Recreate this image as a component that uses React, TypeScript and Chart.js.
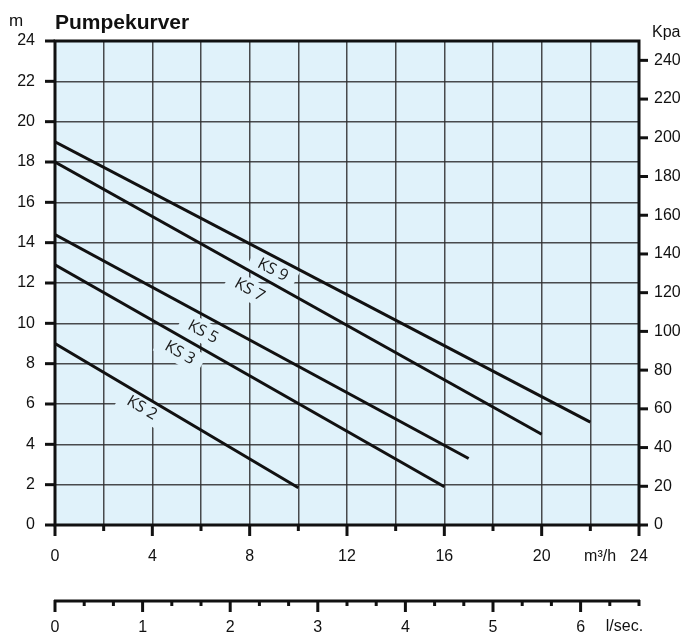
import React, { useEffect, useRef } from 'react';
import { Chart, registerables } from 'chart.js';

Chart.register(...registerables);

// ---- data ----
const curveNames = ['KS 2', 'KS 3', 'KS 5', 'KS 7', 'KS 9'];
const flowStart = [0, 0, 0, 0, 0];
const flowEnd = [10, 16, 17, 20, 22];
const headStart = [9.0, 12.9, 14.4, 18.0, 19.0];
const headEnd = [1.85, 1.9, 3.3, 4.5, 5.1];
// label anchor (flow m3/h, head m) for each curve name
const labelFlow = [3.57, 5.13, 6.08, 8.0, 8.95];
const labelHead = [5.8, 8.53, 9.57, 11.65, 12.64];

const headTicks = [0, 2, 4, 6, 8, 10, 12, 14, 16, 18, 20, 22, 24];
const kpaTicks = [0, 20, 40, 60, 80, 100, 120, 140, 160, 180, 200, 220, 240];
const kpaMax = 250;
const flowTicks = [0, 2, 4, 6, 8, 10, 12, 14, 16, 18, 20, 22, 24];
const flowLabels = [0, 4, 8, 12, 16, 20, 24];
const lsecLabels = [0, 1, 2, 3, 4, 5, 6];
const lsecSub = 3; // minor divisions per l/sec
const M3H_PER_LSEC = 3.6;

const BG = '#e0f2fa';
const INK = '#111111';
const FAMILY = '"Liberation Sans", Arial, sans-serif';
const TICK_SIZE = 16;
const GRID = 'rgba(45,45,45,0.85)';

const deco = {
  id: 'deco',
  beforeDraw(chart: any) {
    const { ctx, chartArea: a } = chart;
    ctx.save();
    ctx.fillStyle = BG;
    ctx.fillRect(a.left, a.top, a.right - a.left, a.bottom - a.top);
    ctx.restore();
  },
  beforeDatasetsDraw(chart: any) {
    const { ctx } = chart;
    const x = chart.scales.x;
    const y = chart.scales.y;
    ctx.save();
    ctx.font = '16px "Open Sans", sans-serif';
    curveNames.forEach((name, i) => {
      const x0 = x.getPixelForValue(flowStart[i]);
      const y0 = y.getPixelForValue(headStart[i]);
      const x1 = x.getPixelForValue(flowEnd[i]);
      const y1 = y.getPixelForValue(headEnd[i]);
      const ang = Math.atan2(y1 - y0, x1 - x0);
      const cx = x.getPixelForValue(labelFlow[i]);
      const cy = y.getPixelForValue(labelHead[i]);
      const w = ctx.measureText(name).width;
      ctx.save();
      ctx.translate(cx, cy);
      ctx.rotate(ang);
      ctx.fillStyle = BG;
      ctx.fillRect(-w / 2 - 9, -11, w + 18, 22);
      ctx.fillStyle = '#1a1a1a';
      ctx.textAlign = 'center';
      ctx.textBaseline = 'middle';
      ctx.fillText(name, 0, 0);
      ctx.restore();
    });
    ctx.restore();
  },
  afterDraw(chart: any) {
    const { ctx, chartArea: a } = chart;
    const x = chart.scales.x;
    const y = chart.scales.y;
    const y2 = chart.scales.y2;
    const x2 = chart.scales.x2;
    ctx.save();
    ctx.strokeStyle = INK;
    ctx.lineWidth = 3;
    ctx.lineCap = 'butt';
    // frame
    ctx.strokeRect(a.left, a.top, a.right - a.left, a.bottom - a.top);
    // left ticks
    headTicks.forEach((v) => {
      const p = y.getPixelForValue(v);
      ctx.beginPath();
      ctx.moveTo(a.left - 10, p);
      ctx.lineTo(a.left, p);
      ctx.stroke();
    });
    // right ticks
    kpaTicks.forEach((v) => {
      const p = y2.getPixelForValue(v);
      ctx.beginPath();
      ctx.moveTo(a.right, p);
      ctx.lineTo(a.right + 9, p);
      ctx.stroke();
    });
    // bottom ticks
    flowTicks.forEach((v) => {
      const p = x.getPixelForValue(v);
      const len = flowLabels.includes(v) ? 11 : 6;
      ctx.beginPath();
      ctx.moveTo(p, a.bottom);
      ctx.lineTo(p, a.bottom + len);
      ctx.stroke();
    });
    // l/sec axis
    const ly = x2.top;
    ctx.beginPath();
    ctx.moveTo(a.left - 1, ly);
    ctx.lineTo(a.right + 1, ly);
    ctx.stroke();
    const n = lsecLabels[lsecLabels.length - 1] * lsecSub + 2;
    for (let i = 0; i <= n; i++) {
      const p = x2.getPixelForValue(i / lsecSub);
      if (p > a.right + 1) break;
      const len = i % lsecSub === 0 ? 11 : 5;
      ctx.beginPath();
      ctx.moveTo(p, ly - 1);
      ctx.lineTo(p, ly + len);
      ctx.stroke();
    }
    // texts
    ctx.fillStyle = INK;
    ctx.textBaseline = 'alphabetic';
    ctx.textAlign = 'left';
    ctx.font = 'bold 21px ' + FAMILY;
    ctx.fillText('Pumpekurver', a.left, 29);
    ctx.font = '17px ' + FAMILY;
    ctx.fillText('m', 9, 26);
    ctx.font = TICK_SIZE + 'px ' + FAMILY;
    ctx.fillText('Kpa', 652, 37);
    ctx.textAlign = 'center';
    ctx.textBaseline = 'middle';
    ctx.fillText('m³/h', x.getPixelForValue(22.4), 557);
    ctx.fillText('l/sec.', x.getPixelForValue(23.4), 627);
    ctx.restore();
  },
};

export default function App() {
  const ref = useRef<HTMLCanvasElement | null>(null);
  useEffect(() => {
    document.body.style.margin = '0';
    const canvas = ref.current;
    if (!canvas) return;
    const datasets = curveNames.map((name, i) => ({
      label: name,
      data: [
        { x: flowStart[i], y: headStart[i] },
        { x: flowEnd[i], y: headEnd[i] },
      ],
      borderColor: INK,
      borderWidth: 3,
      pointRadius: 0,
      fill: false,
      tension: 0,
    }));
    const tickFont = { family: FAMILY, size: TICK_SIZE };
    const chart = new Chart(canvas, {
      type: 'line',
      data: { datasets },
      plugins: [deco],
      options: {
        responsive: false,
        animation: false,
        devicePixelRatio: 1,
        layout: { padding: { top: 41, left: 0, right: 0, bottom: 0 } },
        plugins: { legend: { display: false }, tooltip: { enabled: false }, title: { display: false } },
        scales: {
          x: {
            type: 'linear',
            position: 'bottom',
            min: 0,
            max: 24,
            afterBuildTicks: (s: any) => {
              s.ticks = flowTicks.map((v) => ({ value: v }));
            },
            afterFit: (s: any) => {
              s.height = 76;
            },
            ticks: {
              autoSkip: false,
              maxRotation: 0,
              padding: 22,
              color: INK,
              font: tickFont,
              callback: (v: any) => (flowLabels.includes(Number(v)) ? String(v) : ''),
            },
            grid: { color: GRID, lineWidth: 1.5, drawTicks: false },
            border: { display: false },
          },
          x2: {
            type: 'linear',
            position: 'bottom',
            min: 0,
            max: 24 / M3H_PER_LSEC,
            afterBuildTicks: (s: any) => {
              s.ticks = lsecLabels.map((v) => ({ value: v }));
            },
            afterFit: (s: any) => {
              s.height = 34;
            },
            ticks: {
              autoSkip: false,
              maxRotation: 0,
              padding: 17,
              color: INK,
              font: tickFont,
              callback: (v: any) => String(v),
            },
            grid: { drawOnChartArea: false, drawTicks: false },
            border: { display: false },
          },
          y: {
            type: 'linear',
            position: 'left',
            min: 0,
            max: 24,
            afterBuildTicks: (s: any) => {
              s.ticks = headTicks.map((v) => ({ value: v }));
            },
            afterFit: (s: any) => {
              s.width = 55;
            },
            ticks: {
              autoSkip: false,
              padding: 20,
              color: INK,
              font: tickFont,
            },
            grid: { color: GRID, lineWidth: 1.5, drawTicks: false },
            border: { display: false },
          },
          y2: {
            type: 'linear',
            position: 'right',
            min: 0,
            max: kpaMax,
            afterBuildTicks: (s: any) => {
              s.ticks = kpaTicks.map((v) => ({ value: v }));
            },
            afterFit: (s: any) => {
              s.width = 44;
            },
            ticks: {
              autoSkip: false,
              padding: 15,
              color: INK,
              font: tickFont,
            },
            grid: { drawOnChartArea: false, drawTicks: false },
            border: { display: false },
          },
        },
      },
    } as any);
    return () => chart.destroy();
  }, []);
  return (
    <div style={{ width: 683, height: 635 }}>
      <canvas ref={ref} width={683} height={635} style={{ display: 'block', width: 683, height: 635 }} />
    </div>
  );
}
